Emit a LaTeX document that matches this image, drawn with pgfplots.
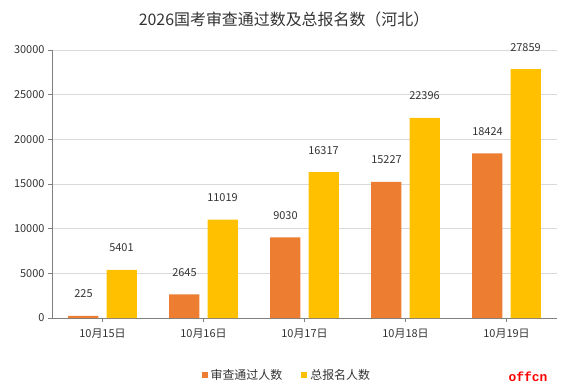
\documentclass[border=0pt]{standalone}
\usepackage{fontspec}
\setmainfont{Noto Sans CJK SC}
\newfontfamily\wmfont{Liberation Mono}
\usepackage{pgfplots}
\pgfplotsset{compat=1.18}
\definecolor{cA}{HTML}{ED7D31}
\definecolor{cB}{HTML}{FFC000}
\definecolor{txt}{HTML}{333333}
\begin{document}
\begin{tikzpicture}
\useasboundingbox (-52bp,-70bp) rectangle (517bp,318bp);
\begin{axis}[
  scale only axis, width=505bp, height=268bp,
  xmin=-0.5, xmax=4.5, ymin=0, ymax=30000,
  xtick={0,1,2,3,4},
  xticklabels={10月15日,10月16日,10月17日,10月18日,10月19日},
  ytick={0,5000,10000,15000,20000,25000,30000},
  scaled y ticks=false,
  /pgf/number format/1000 sep={},
  /pgf/number format/assume math mode=true,
  axis x line*=bottom, axis y line*=left,
  axis line style={draw=black!50},
  every tick/.style={draw=black!50},
  ymajorgrids, grid style={draw=black!15},
  tick align=outside, major tick length=4bp,
  ticklabel style={font=\fontsize{11}{12}\selectfont, text=txt},
  xticklabel style={yshift=-3bp},
  legend style={at={(0.466,-0.213)}, anchor=center, draw=none, font=\fontsize{12}{13}\selectfont, text=txt, inner sep=0pt, nodes={inner xsep=3bp}},
  legend columns=2,
  /tikz/every even column/.append style={column sep=16bp},
  legend image code/.code={\fill[#1] (0bp,-3bp) rectangle (6bp,3bp);},
  nodes near coords,
  every node near coord/.append style={anchor=center, yshift=22bp, font=\fontsize{11}{12}\selectfont, text=txt},
]
\addplot[ybar, fill=cA, draw=none, bar width=0.3, bar shift=-0.19,
  every node near coord/.append style={xshift=-19bp}] coordinates {(0,225) (1,2645) (2,9030) (3,15227) (4,18424)};
\addlegendentry{审查通过人数}
\addplot[ybar, fill=cB, draw=none, bar width=0.3, bar shift=0.19,
  every node near coord/.append style={xshift=19bp}] coordinates {(0,5401) (1,11019) (2,16317) (3,22396) (4,27859)};
\addlegendentry{总报名人数}
\end{axis}
\node[font=\fontsize{16}{17}\selectfont, text=txt] at (232bp,299bp) {2026国考审查通过数及总报名数（河北）};
\node[font=\fontsize{13}{14}\selectfont\wmfont\bfseries, text=red] at (476bp,-59bp) {offcn};
\end{tikzpicture}
\end{document}
